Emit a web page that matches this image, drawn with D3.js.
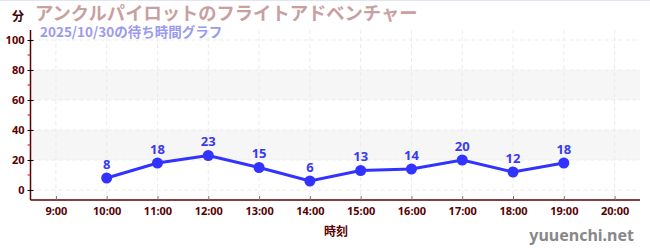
<!DOCTYPE html>
<html>
<head>
<meta charset="utf-8">
<script src="https://cdn.jsdelivr.net/npm/d3@7/dist/d3.min.js"></script>
<style>
  body { margin: 0; background: #fff; }
  svg { display: block; font-family: "Noto Sans CJK JP", "Noto Sans", sans-serif; }
</style>
</head>
<body>
<svg width="650" height="250"></svg>
<script>
var hours = [10, 11, 12, 13, 14, 15, 16, 17, 18, 19];
var waits = [8, 18, 23, 15, 6, 13, 14, 20, 12, 18];
var hourTicks = [9, 10, 11, 12, 13, 14, 15, 16, 17, 18, 19, 20];
var yTicks = [0, 20, 40, 60, 80, 100];
var yMinor = [10, 30, 50, 70, 90];
var bands = [[20, 40], [60, 80]];

var svg = d3.select("svg");
var plotL = 30.5, plotR = 640, plotT = 30, plotB = 200;

var x = d3.scaleLinear().domain([8.5, 20.5]).range([plotL, plotR]);
var y = d3.scaleLinear().domain([-6.67, 106.67]).range([plotB, plotT]);

// faint top border
svg.append("line")
    .attr("x1", 0).attr("x2", 650).attr("y1", 0.5).attr("y2", 0.5)
    .attr("stroke", "#e4e4f8");

// shaded bands
svg.selectAll("rect.band")
  .data(bands)
  .enter().append("rect")
    .attr("x", plotL)
    .attr("width", plotR - plotL)
    .attr("y", function(d) { return y(d[1]); })
    .attr("height", function(d) { return y(d[0]) - y(d[1]); })
    .attr("fill", "#f6f6f6");

// grid
svg.append("g")
  .selectAll("line")
  .data(yTicks)
  .enter().append("line")
    .attr("x1", plotL).attr("x2", plotR)
    .attr("y1", function(d) { return y(d); })
    .attr("y2", function(d) { return y(d); })
    .attr("stroke", "#ebebeb")
    .attr("stroke-dasharray", "4,3");

svg.append("g")
  .selectAll("line")
  .data(hourTicks)
  .enter().append("line")
    .attr("x1", function(d) { return x(d); })
    .attr("x2", function(d) { return x(d); })
    .attr("y1", plotT).attr("y2", plotB)
    .attr("stroke", "#ebebeb")
    .attr("stroke-dasharray", "4,3");

// x axis
var xAxis = svg.append("g")
    .attr("transform", "translate(0," + plotB + ")")
    .call(d3.axisBottom(x).tickValues(hourTicks).tickSize(-4).tickPadding(7)
      .tickFormat(function(d) { return d + ":00"; }));
xAxis.select(".domain").attr("stroke", "#5a0000").attr("stroke-width", 1.5).attr("d", "M" + plotL + ",0H" + plotR);
xAxis.selectAll(".tick line").attr("stroke", "#777");
xAxis.selectAll(".tick text").attr("fill", "#5a0000").attr("font-size", 11).attr("font-weight", "bold")
  .attr("font-family", "'Noto Sans', sans-serif");

// y axis
var yAxis = svg.append("g")
    .attr("transform", "translate(" + plotL + ",0)")
    .call(d3.axisLeft(y).tickValues(yTicks).tickSize(3).tickPadding(3));
yAxis.select(".domain").attr("stroke", "#5a0000").attr("stroke-width", 1.5).attr("d", "M0," + plotT + "V" + plotB);
yAxis.selectAll(".tick line").attr("stroke", "#000").attr("x1", 3).attr("x2", -3);
yAxis.selectAll(".tick text").attr("fill", "#5a0000").attr("font-size", 11).attr("font-weight", "bold")
  .attr("font-family", "'Noto Sans', sans-serif");

svg.append("g")
  .selectAll("line")
  .data(yMinor)
  .enter().append("line")
    .attr("x1", plotL - 3).attr("x2", plotL)
    .attr("y1", function(d) { return y(d); })
    .attr("y2", function(d) { return y(d); })
    .attr("stroke", "#e00000");

// line + points
var line = d3.line()
    .x(function(d, i) { return x(hours[i]); })
    .y(function(d) { return y(d); });

svg.append("path")
    .datum(waits)
    .attr("fill", "none")
    .attr("stroke", "#3333ff")
    .attr("stroke-width", 3)
    .attr("d", line);

svg.selectAll("circle.pt")
  .data(waits)
  .enter().append("circle")
    .attr("cx", function(d, i) { return x(hours[i]); })
    .attr("cy", function(d) { return y(d); })
    .attr("r", 5.5)
    .attr("fill", "#3333ff");

svg.selectAll("text.val")
  .data(waits)
  .enter().append("text")
    .attr("x", function(d, i) { return x(hours[i]); })
    .attr("y", function(d) { return y(d) - 9; })
    .attr("text-anchor", "middle")
    .attr("fill", "#3a3aee")
    .attr("font-size", 13)
    .attr("font-weight", "bold")
    .attr("font-family", "'Noto Sans', sans-serif")
    .text(function(d) { return d; });

// titles
svg.append("text")
    .attr("x", 35).attr("y", 20)
    .attr("fill", "#c9a0a0")
    .attr("font-size", 18.3)
    .attr("font-weight", "bold")
    .text("アンクルパイロットのフライトアドベンチャー");

svg.append("text")
    .attr("x", 40).attr("y", 36.5)
    .attr("fill", "#9a9af0")
    .attr("font-size", 13.5)
    .attr("font-weight", "bold")
    .text("2025/10/30の待ち時間グラフ");

svg.append("text")
    .attr("x", 24).attr("y", 21)
    .attr("text-anchor", "end")
    .attr("fill", "#3a0000")
    .attr("font-size", 12)
    .attr("font-weight", "bold")
    .text("分");

svg.append("text")
    .attr("x", 336).attr("y", 236)
    .attr("text-anchor", "middle")
    .attr("fill", "#5a0000")
    .attr("font-size", 12)
    .attr("font-weight", "bold")
    .text("時刻");

svg.append("text")
    .attr("x", 634).attr("y", 241)
    .attr("text-anchor", "end")
    .attr("fill", "#888")
    .attr("font-size", 16)
    .attr("font-weight", "bold")
    .attr("font-family", "'Noto Sans', sans-serif")
    .text("yuuenchi.net");
</script>
</body>
</html>
